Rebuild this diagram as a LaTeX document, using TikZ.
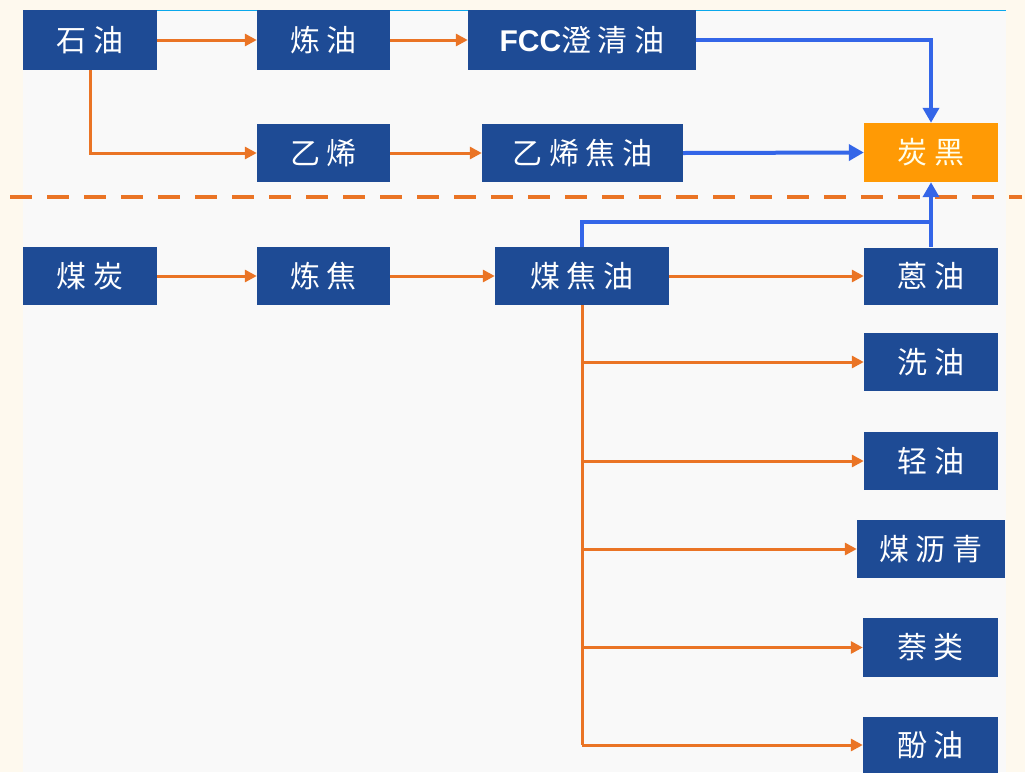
\documentclass[tikz,border=0pt]{standalone}
\usepackage{fontspec}
\setmainfont{Noto Sans CJK SC}[LetterSpace=22]
\newfontfamily\latinbold{Liberation Sans}[BoldFont={* Bold}]
\usetikzlibrary{arrows.meta}
\definecolor{cream}{HTML}{FEF9EE}
\definecolor{panel}{HTML}{F9F9F9}
\definecolor{nodeblue}{HTML}{1E4B95}
\definecolor{nodeorange}{HTML}{FF9A05}
\definecolor{arrorange}{HTML}{EA7425}
\definecolor{arrblue}{HTML}{3466E8}
\definecolor{topline}{HTML}{0AA8EC}
\tikzset{
  box/.style={fill=nodeblue, text=white, inner sep=0pt, font=\fontsize{30}{30}\selectfont},
  obox/.style={box, fill=nodeorange, text=white!92!yellow},
  oarr/.style={draw=arrorange, line width=3pt, -{Triangle[length=12pt,width=12pt]}},
  oline/.style={draw=arrorange, line width=3pt},
  barr/.style={draw=arrblue, line width=4pt, -{Triangle[length=15pt,width=16pt]}},
  bline/.style={draw=arrblue, line width=4pt},
  sep/.style={draw=arrorange, line width=4pt, dash pattern=on 22pt off 15pt}
}
\begin{document}
\begin{tikzpicture}[x=1pt,y=-1pt]
\useasboundingbox (0,0) rectangle (1025,772);
\fill[cream] (0,0) rectangle (1025,772);
\fill[panel] (23,10) rectangle (1006,772);
\draw[topline, line width=1pt] (23,10.5) -- (1006,10.5);
% top part
\node[box, minimum width=134pt, minimum height=60pt] (shiyou) at (90,40) {石油};
\node[box, minimum width=133pt, minimum height=60pt] (lianyou) at (323.5,40) {炼油};
\node[box, minimum width=228pt, minimum height=60pt] (fcc) at (582,40) {{\latinbold\bfseries FCC}澄清油};
\node[box, minimum width=133pt, minimum height=58pt] (yixi) at (323.5,153) {乙烯};
\node[box, minimum width=201pt, minimum height=58pt] (yxjy) at (582.5,153) {乙烯焦油};
\node[obox, minimum width=134pt, minimum height=59pt] (tanhei) at (931,152.5) {炭黑};
% bottom part
\node[box, minimum width=134pt, minimum height=58pt] (meitan) at (90,276) {煤炭};
\node[box, minimum width=133pt, minimum height=58pt] (lianjiao) at (323.5,276) {炼焦};
\node[box, minimum width=174pt, minimum height=58pt] (mjy) at (582,276) {煤焦油};
\node[box, minimum width=134pt, minimum height=57pt] (enyou) at (931,276) {蒽油};
\node[box, minimum width=134pt, minimum height=58pt] (xiyou) at (931,362) {洗油};
\node[box, minimum width=134pt, minimum height=58pt] (qingyou) at (931,461) {轻油};
\node[box, minimum width=148pt, minimum height=58pt] (mlq) at (931,549) {煤沥青};
\node[box, minimum width=135pt, minimum height=59pt] (nai) at (930.5,647.5) {萘类};
\node[box, minimum width=135pt, minimum height=56pt] (fen) at (930.5,745) {酚油};
% separator
\draw[sep] (10,197) -- (1022,197);
% orange connectors top
\draw[oarr] (shiyou.east) -- (lianyou.west);
\draw[oarr] (lianyou.east) -- (fcc.west);
\draw[oarr] (shiyou.south) |- (yixi.west);
\draw[oarr] (yixi.east) -- (yxjy.west);
% blue connectors
\draw[barr] (fcc.east) -| (tanhei.north);
\draw[barr] (yxjy.east) -- (tanhei.west);
\coordinate (j) at (931,222);
\draw[bline] (mjy.north) |- (j);
\draw[barr] (enyou.north) -- (tanhei.south);
% orange connectors bottom
\draw[oarr] (meitan.east) -- (lianjiao.west);
\draw[oarr] (lianjiao.east) -- (mjy.west);
\draw[oarr] (mjy.east) -- (enyou.west);
\coordinate (b) at (582,745);
\draw[oline] (mjy.south) -- (b);
\draw[oarr] (mjy.south |- xiyou.west) -- (xiyou.west);
\draw[oarr] (mjy.south |- qingyou.west) -- (qingyou.west);
\draw[oarr] (mjy.south |- mlq.west) -- (mlq.west);
\draw[oarr] (mjy.south |- nai.west) -- (nai.west);
\draw[oarr] (b) -- (fen.west);
\end{tikzpicture}
\end{document}
